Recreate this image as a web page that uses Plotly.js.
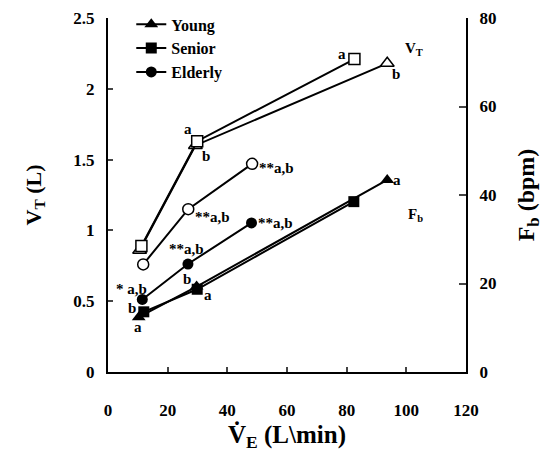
<!DOCTYPE html>
<html><head><meta charset="utf-8">
<script src="https://cdn.plot.ly/plotly-3.0.1.min.js"></script>
<style>body{margin:0;background:#fff}#c{width:549px;height:454px}</style>
</head><body><div id="c"></div>
<script>
// VE (L/min) and VT (L) for each group
const youngVE = [10.6, 29.3, 93.6];
const youngVT = [0.86, 1.60, 2.18];
const seniorVE = [11.2, 29.9, 82.6];
const seniorVT = [0.89, 1.63, 2.21];
const elderlyVE = [11.8, 26.9, 48.3];
const elderlyVT = [0.76, 1.15, 1.47];
// Fb (bpm)
const youngFbVE = [10.3, 29.7, 93.6];
const youngFb = [12.4, 19.3, 43.4];
const seniorFbVE = [12.0, 29.9, 82.4];
const seniorFb = [13.6, 18.7, 38.5];
const elderlyFbVE = [11.5, 26.8, 48.1];
const elderlyFb = [16.4, 24.4, 33.7];
const groups = ["Young", "Senior", "Elderly"];
const xTicks = [0, 20, 40, 60, 80, 100, 120];

const serif = "Liberation Serif, Times New Roman, serif";
const line = {color: "#000", width: 2};
function vt(x, y, sym, size) {
  return {x, y, type: "scatter", mode: "lines+markers", showlegend: false,
    line: line, marker: {symbol: sym, size: size, color: "#fff", line: {color: "#000", width: 1.5}},
    xaxis: "x", yaxis: "y"};
}
function fb(x, y, sym, size, name) {
  return {x, y, name, type: "scatter", mode: "lines+markers",
    line: line, marker: {symbol: sym, size: size, color: "#000", line: {color: "#000", width: 0}},
    xaxis: "x", yaxis: "y2"};
}
const data = [
  vt(youngVE, youngVT, "triangle-up", 12),
  vt(seniorVE, seniorVT, "square", 11),
  vt(elderlyVE, elderlyVT, "circle", 11),
  fb(youngFbVE, youngFb, "triangle-up", 12, groups[0]),
  fb(seniorFbVE, seniorFb, "square", 11, groups[1]),
  fb(elderlyFbVE, elderlyFb, "circle", 11, groups[2])
];
const annFont = {family: serif, size: 15, color: "#000", weight: "bold"};
function ann(x, y, text) {
  return {x, y, xref: "x", yref: "y", text: "<b>" + text + "</b>", showarrow: false, font: annFont};
}
const annotations = [
  ann(78.5, 2.246, "a"), ann(96.7, 2.104, "b"), ann(102.5, 2.279, "V<sub>T</sub>"),
  ann(26.8, 1.714, "a"), ann(32.7, 1.525, "b"),
  ann(56.6, 1.44, "**a,b"), ann(35.0, 1.095, "**a,b"), ann(26.3, 0.869, "**a,b"),
  ann(56.0, 1.05, "**a,b"),
  ann(26.5, 0.655, "b"), ann(7.9, 0.584, "* a,b"), ann(8.1, 0.45, "b"),
  ann(10.1, 0.316, "a"), ann(33.5, 0.544, "a"),
  ann(96.9, 1.356, "a"), ann(103.1, 1.109, "F<sub>b</sub>")
];
const tickFont = {family: serif, size: 17, color: "#000", weight: "bold"};
const titleFont = {family: serif, size: 22, color: "#000", weight: "bold"};
const layout = {
  width: 549, height: 454,
  margin: {l: 108, r: 83, t: 18, b: 82, autoexpand: false},
  paper_bgcolor: "#fff", plot_bgcolor: "#fff",
  showlegend: true,
  legend: {x: 0.065, y: 1.03, xanchor: "left", yanchor: "top", bgcolor: "rgba(0,0,0,0)",
    font: {family: serif, size: 16, color: "#000", weight: "bold"}, itemwidth: 30, tracegroupgap: 0},
  xaxis: {range: [0, 120], tickvals: xTicks, ticks: "inside", ticklen: 5, tickwidth: 2,
    showline: true, linecolor: "#000", linewidth: 2, showgrid: false, zeroline: false,
    tickfont: tickFont, ticklabelstandoff: 22,
    title: {text: "V\u0307<sub>E</sub> (L\\min)", font: {family: serif, size: 25, color: "#000", weight: "bold"}, standoff: 6}},
  yaxis: {range: [0, 2.5], dtick: 0.5, ticks: "inside", ticklen: 5, tickwidth: 2,
    showline: true, linecolor: "#000", linewidth: 2, showgrid: false, zeroline: false,
    tickfont: tickFont, ticklabelstandoff: 8,
    title: {text: "V<sub>T</sub> (L)", font: titleFont, standoff: 26}},
  yaxis2: {range: [0, 80], dtick: 20, overlaying: "y", side: "right", ticks: "inside", ticklen: 7, tickwidth: 2,
    showline: true, linecolor: "#000", linewidth: 2, showgrid: false, zeroline: false,
    tickfont: tickFont, ticklabelstandoff: 8,
    title: {text: "F<sub>b</sub> (bpm)", font: {family: serif, size: 24, color: "#000", weight: "bold"}, standoff: 22}},
  annotations: annotations
};
Plotly.newPlot("c", data, layout, {displayModeBar: false, staticPlot: true});
</script></body></html>
